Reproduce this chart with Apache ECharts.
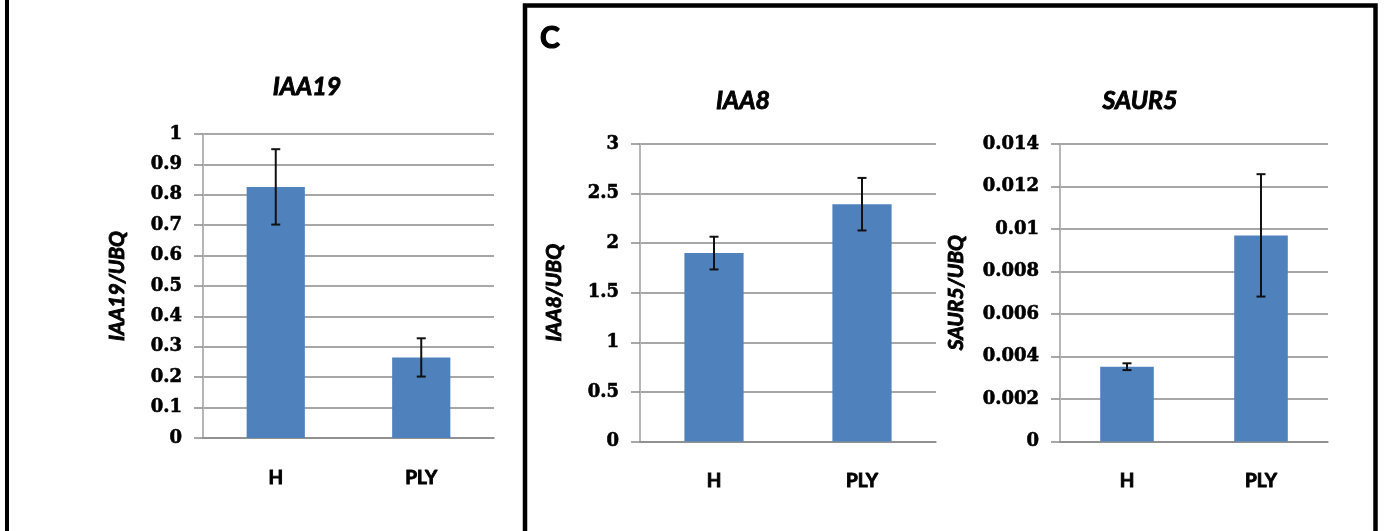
<!DOCTYPE html>
<html>
<head>
<meta charset="utf-8">
<script src="https://cdn.jsdelivr.net/npm/echarts@6/dist/echarts.min.js"></script>
<style>
html,body{margin:0;padding:0;background:#fff;}
#chart{width:1384px;height:531px;}
</style>
</head>
<body>
<div id="chart"></div>
<script>
// ---- data ----
const categories = ['H', 'PLY'];

const iaa19Values = [0.826, 0.265];
const iaa19Errors = [0.124, 0.063];
const iaa19Ticks = [0, 0.1, 0.2, 0.3, 0.4, 0.5, 0.6, 0.7, 0.8, 0.9, 1];

const iaa8Values = [1.90, 2.393];
const iaa8Errors = [0.165, 0.265];
const iaa8Ticks = [0, 0.5, 1, 1.5, 2, 2.5, 3];

const saur5Values = [0.00352, 0.00970];
const saur5Errors = [0.00016, 0.00288];
const saur5Ticks = [0, 0.002, 0.004, 0.006, 0.008, 0.01, 0.012, 0.014];

const panelTitles = ['IAA19', 'IAA8', 'SAUR5'];
const yNames = ['IAA19/UBQ', 'IAA8/UBQ', 'SAUR5/UBQ'];
const panelLetter = 'C';

// ---- chart ----
const chart = echarts.init(document.getElementById('chart'), null, {renderer: 'canvas'});

const BAR = '#4F81BD';
const GRIDC = '#8a8a8a';
const AXISC = '#b5b5b5';
const heavy = {textBorderColor: '#000', textBorderWidth: 0.9};
const titleFont = Object.assign({fontFamily: 'Lato', fontWeight: 'bold', fontStyle: 'italic', fontSize: 25, color: '#000'}, heavy);

function yAxisFor(gridIndex, ticks, name, nameGap) {
  return {
    type: 'value', gridIndex: gridIndex,
    min: ticks[0], max: ticks[ticks.length - 1], interval: ticks[1] - ticks[0],
    name: name, nameLocation: 'middle', nameGap: nameGap, nameRotate: 90,
    nameTextStyle: Object.assign({fontFamily: 'Lato', fontWeight: 'bold', fontStyle: 'italic', fontSize: 21, color: '#000'}, heavy),
    axisLine: {show: true, lineStyle: {color: AXISC, width: 2}},
    axisTick: {show: true, length: 9, lineStyle: {color: GRIDC, width: 1.5}},
    axisLabel: {margin: 21, fontFamily: 'DejaVu Serif', fontWeight: 'bold', fontSize: 18, color: '#000',
      textBorderColor: '#000', textBorderWidth: 0.6},
    splitLine: {show: true, lineStyle: {color: GRIDC, width: 1.5}}
  };
}
function xAxisFor(gridIndex) {
  return {
    type: 'category', gridIndex: gridIndex, data: categories,
    axisLine: {show: true, lineStyle: {color: GRIDC, width: 1.5}},
    axisTick: {show: false},
    axisLabel: Object.assign({margin: 30, fontFamily: 'Lato', fontWeight: 'bold', fontSize: 19, color: '#000'}, heavy)
  };
}
function errRender(params, api) {
  const x = api.value(0), v = api.value(1), e = api.value(2);
  const hi = api.coord([x, v + e]);
  const lo = api.coord([x, v - e]);
  const cap = 4.5;
  const st = {stroke: '#111', lineWidth: 2};
  return {type: 'group', children: [
    {type: 'line', shape: {x1: hi[0], y1: hi[1], x2: lo[0], y2: lo[1]}, style: st},
    {type: 'line', shape: {x1: hi[0] - cap, y1: hi[1], x2: hi[0] + cap, y2: hi[1]}, style: st},
    {type: 'line', shape: {x1: lo[0] - cap, y1: lo[1], x2: lo[0] + cap, y2: lo[1]}, style: st}
  ]};
}
function barSeries(idx, vals) {
  return {type: 'bar', xAxisIndex: idx, yAxisIndex: idx, data: vals, barWidth: '40%',
    itemStyle: {color: BAR}, silent: true, z: 2};
}
function errSeries(idx, vals, errs) {
  return {type: 'custom', xAxisIndex: idx, yAxisIndex: idx,
    data: vals.map((v, i) => [i, v, errs[i]]),
    encode: {x: 0, y: 1}, renderItem: errRender, silent: true, z: 5};
}

const option = {
  animation: false,
  backgroundColor: '#fff',
  title: [
    {text: panelTitles[0], left: 307, top: 87, textAlign: 'center', textVerticalAlign: 'middle', padding: 0, textStyle: titleFont},
    {text: panelTitles[1], left: 743, top: 101, textAlign: 'center', textVerticalAlign: 'middle', padding: 0, textStyle: titleFont},
    {text: panelTitles[2], left: 1140, top: 101, textAlign: 'center', textVerticalAlign: 'middle', padding: 0, textStyle: titleFont},
    {text: panelLetter, left: 550, top: 38, textAlign: 'center', textVerticalAlign: 'middle', padding: 0,
      textStyle: Object.assign({fontFamily: 'Lato', fontWeight: 'bold', fontSize: 30, color: '#000'}, {textBorderColor: '#000', textBorderWidth: 1.2})}
  ],
  grid: [
    {left: 203, right: 890, top: 134, bottom: 93},
    {left: 640, right: 448, top: 144, bottom: 89.5},
    {left: 1060, right: 56, top: 144, bottom: 89.5}
  ],
  xAxis: [xAxisFor(0), xAxisFor(1), xAxisFor(2)],
  yAxis: [
    yAxisFor(0, iaa19Ticks, yNames[0], 75),
    yAxisFor(1, iaa8Ticks, yNames[1], 75),
    yAxisFor(2, saur5Ticks, yNames[2], 93)
  ],
  series: [
    barSeries(0, iaa19Values), errSeries(0, iaa19Values, iaa19Errors),
    barSeries(1, iaa8Values), errSeries(1, iaa8Values, iaa8Errors),
    barSeries(2, saur5Values), errSeries(2, saur5Values, saur5Errors)
  ],
  graphic: [
    {type: 'line', shape: {x1: 7, y1: 0, x2: 7, y2: 531}, style: {stroke: '#000', lineWidth: 4}, silent: true},
    {type: 'polyline', shape: {points: [[525, 540], [525, 5.5], [1375.5, 5.5], [1375.5, 540]]},
      style: {stroke: '#000', lineWidth: 4.5, fill: null}, silent: true}
  ]
};
chart.setOption(option);
</script>
</body>
</html>
